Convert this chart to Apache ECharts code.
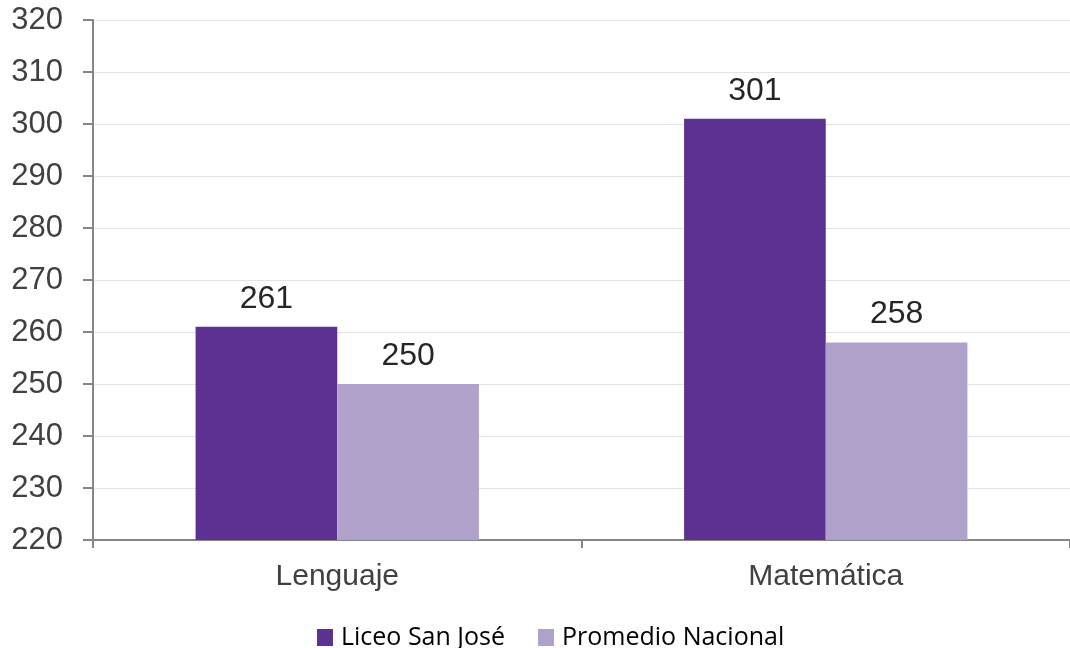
<!DOCTYPE html>
<html>
<head>
<meta charset="utf-8">
<script src="https://cdn.jsdelivr.net/npm/echarts@6/dist/echarts.min.js"></script>
<style>
html,body{margin:0;padding:0;background:#fff;}
#chart{width:1070px;height:648px;}
</style>
</head>
<body>
<div id="chart"></div>
<script>
var categories = ['Lenguaje', 'Matemática'];
var liceo = [261, 301];
var promedio = [250, 258];
var seriesNames = ['Liceo San José', 'Promedio Nacional'];

var chart = echarts.init(document.getElementById('chart'));
chart.setOption({
	animation: false,
	legend: {
		data: seriesNames,
		top: 620,
		left: 312,
		itemWidth: 16,
		itemHeight: 17,
		itemGap: 33,
		icon: 'rect',
		textStyle: {fontFamily: 'Open Sans', fontSize: 25, color: '#000', padding: [0, 0, 0, 3]}
	},
	grid: {left: 93, right: 0, top: 20, bottom: 108},
	xAxis: {
		type: 'category',
		data: categories,
		axisLine: {lineStyle: {color: '#868686', width: 2}},
		axisTick: {show: true, length: 8, lineStyle: {color: '#868686', width: 2}},
		axisLabel: {fontFamily: 'Liberation Sans', fontSize: 30, color: '#404040', margin: 22}
	},
	yAxis: {
		type: 'value',
		min: 220,
		max: 320,
		interval: 10,
		axisLine: {show: true, lineStyle: {color: '#868686', width: 2}},
		axisTick: {show: true, length: 10, lineStyle: {color: '#868686', width: 2}},
		splitLine: {lineStyle: {color: '#e3e3e8', width: 1}},
		axisLabel: {fontFamily: 'Liberation Sans', fontSize: 31, color: '#404040', margin: 30}
	},
	series: [{
		name: seriesNames[0],
		type: 'bar',
		data: liceo,
		barGap: '0%',
		barCategoryGap: '42%',
		itemStyle: {color: '#5c3191'},
		label: {show: true, position: 'top', distance: 12, fontFamily: 'Liberation Sans', fontSize: 32, color: '#262626'}
	}, {
		name: seriesNames[1],
		type: 'bar',
		data: promedio,
		itemStyle: {color: '#b0a1cb'},
		label: {show: true, position: 'top', distance: 12, fontFamily: 'Liberation Sans', fontSize: 32, color: '#262626'}
	}]
});
</script>
</body>
</html>
